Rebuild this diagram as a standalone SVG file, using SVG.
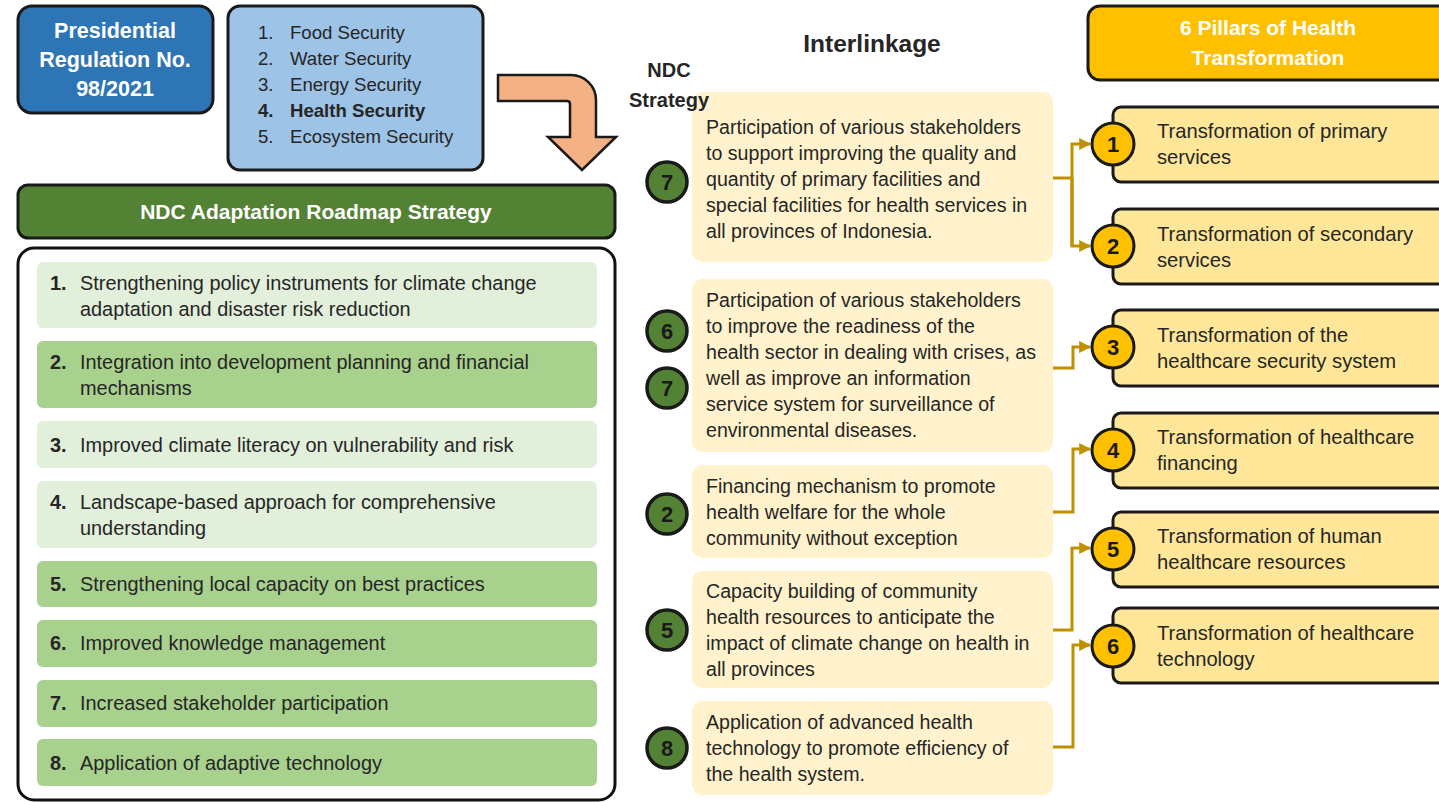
<svg xmlns="http://www.w3.org/2000/svg" width="1439" height="802" viewBox="0 0 1439 802">
<defs>
<style>
text{font-family:"Liberation Sans",Arial,sans-serif;fill:#262626}
.b{font-weight:bold}
.w{fill:#fff}
.t19{font-size:19.6px}
.pt{font-size:20.2px}
.sec{font-size:18.6px}
.it{font-size:19.9px}
.box{stroke:#1a1a1a;stroke-width:3}
.lt{fill:#e2efda}
.dk{fill:#a9d18e}
.il{fill:#fff2cc}
.pil{fill:#ffe699;stroke:#1a1a1a;stroke-width:3}
.pc{fill:#ffc000;stroke:#1a1a1a;stroke-width:3}
.gc{fill:#548235;stroke:#1a1a1a;stroke-width:3.5}
.num{font-size:22px;font-weight:bold;text-anchor:middle;fill:#1a1a1a}
.con{fill:none;stroke:#bf9000;stroke-width:3}
</style>
<marker id="ah" viewBox="0 0 10 10" refX="9" refY="5" markerWidth="4" markerHeight="4" orient="auto" markerUnits="strokeWidth">
<path d="M0,0 L10,5 L0,10 Z" fill="#bf9000"/>
</marker>
</defs>
<rect width="1439" height="802" fill="#fff"/>

<g id="presidential">
<rect x="18" y="6" width="195" height="107" rx="14" fill="#2e75b6" class="box"/>
<text class="b w" font-size="21.5" text-anchor="middle"><tspan x="115" y="38">Presidential</tspan><tspan x="115" y="67">Regulation No.</tspan><tspan x="115" y="96">98/2021</tspan></text>
</g>

<g id="security-list">
<rect x="228" y="6" width="255" height="164" rx="12" fill="#9dc3e6" class="box"/>
<text class="sec"><tspan x="258" y="39">1.</tspan><tspan x="290" y="39">Food Security</tspan></text>
<text class="sec"><tspan x="258" y="65">2.</tspan><tspan x="290" y="65">Water Security</tspan></text>
<text class="sec"><tspan x="258" y="91">3.</tspan><tspan x="290" y="91">Energy Security</tspan></text>
<text class="sec b"><tspan x="258" y="117">4.</tspan><tspan x="290" y="117">Health Security</tspan></text>
<text class="sec"><tspan x="258" y="143">5.</tspan><tspan x="290" y="143">Ecosystem Security</tspan></text>
</g>

<g id="bent-arrow">
<path d="M498,75 H571 A25,25 0 0 1 596,100 V137 H616 L582,170 L548,137 H570 V104 Q570,101 567,101 H498 Z" fill="#f4b183" stroke="#1a1a1a" stroke-width="2.5" stroke-linejoin="miter"/>
</g>

<g id="interlinkage-title">
<text class="b" font-size="24.5" text-anchor="middle" x="872" y="52">Interlinkage</text>
</g>

<g id="pillars-header">
<rect x="1088" y="6" width="370" height="74" rx="12" fill="#ffc000" class="box"/>
<text class="b w" font-size="21" text-anchor="middle"><tspan x="1268" y="35">6 Pillars of Health</tspan><tspan x="1268" y="65">Transformation</tspan></text>
</g>

<g id="ndc-header">
<rect x="18" y="185" width="597" height="53" rx="10" fill="#548235" class="box"/>
<text class="b w" font-size="21" text-anchor="middle" x="316" y="219">NDC Adaptation Roadmap Strategy</text>
</g>

<g id="ndc-list">
<rect x="18" y="248" width="597" height="552" rx="16" fill="#fff" stroke="#111" stroke-width="3"/>
<g id="item1"><rect x="37" y="262" width="560" height="66" rx="6" class="lt"/>
<text class="it"><tspan x="50" y="290" class="b">1.</tspan><tspan x="80" y="290">Strengthening policy instruments for climate change</tspan><tspan x="80" y="316">adaptation and disaster risk reduction</tspan></text></g>
<g id="item2"><rect x="37" y="341" width="560" height="67" rx="6" class="dk"/>
<text class="it"><tspan x="50" y="369" class="b">2.</tspan><tspan x="80" y="369">Integration into development planning and financial</tspan><tspan x="80" y="395">mechanisms</tspan></text></g>
<g id="item3"><rect x="37" y="421" width="560" height="47" rx="6" class="lt"/>
<text class="it"><tspan x="50" y="452" class="b">3.</tspan><tspan x="80" y="452">Improved climate literacy on vulnerability and risk</tspan></text></g>
<g id="item4"><rect x="37" y="481" width="560" height="67" rx="6" class="lt"/>
<text class="it"><tspan x="50" y="509" class="b">4.</tspan><tspan x="80" y="509">Landscape-based approach for comprehensive</tspan><tspan x="80" y="535">understanding</tspan></text></g>
<g id="item5"><rect x="37" y="561" width="560" height="46" rx="6" class="dk"/>
<text class="it"><tspan x="50" y="591" class="b">5.</tspan><tspan x="80" y="591">Strengthening local capacity on best practices</tspan></text></g>
<g id="item6"><rect x="37" y="620" width="560" height="47" rx="6" class="dk"/>
<text class="it"><tspan x="50" y="650" class="b">6.</tspan><tspan x="80" y="650">Improved knowledge management</tspan></text></g>
<g id="item7"><rect x="37" y="680" width="560" height="47" rx="6" class="dk"/>
<text class="it"><tspan x="50" y="710" class="b">7.</tspan><tspan x="80" y="710">Increased stakeholder participation</tspan></text></g>
<g id="item8"><rect x="37" y="739" width="560" height="47" rx="6" class="dk"/>
<text class="it"><tspan x="50" y="770" class="b">8.</tspan><tspan x="80" y="770">Application of adaptive technology</tspan></text></g>
</g>

<g id="interlink-a">
<rect x="692" y="92" width="361" height="170" rx="10" class="il"/>
<text class="t19"><tspan x="706" y="134">Participation of various stakeholders</tspan><tspan x="706" y="160">to support improving the quality and</tspan><tspan x="706" y="186">quantity of primary facilities and</tspan><tspan x="706" y="212">special facilities for health services in</tspan><tspan x="706" y="238">all provinces of Indonesia.</tspan></text>
<circle cx="667" cy="182" r="20" class="gc"/><text class="num" x="667" y="190">7</text>
</g>

<g id="ndc-strategy-label">
<text class="b" font-size="20" text-anchor="middle" fill="#000"><tspan x="669" y="77">NDC</tspan><tspan x="669" y="107">Strategy</tspan></text>
</g>

<g id="interlink-b">
<rect x="692" y="279" width="361" height="173" rx="10" class="il"/>
<text class="t19"><tspan x="706" y="307">Participation of various stakeholders</tspan><tspan x="706" y="333">to improve the readiness of the</tspan><tspan x="706" y="359">health sector in dealing with crises, as</tspan><tspan x="706" y="385">well as improve an information</tspan><tspan x="706" y="411">service system for surveillance of</tspan><tspan x="706" y="437">environmental diseases.</tspan></text>
<circle cx="667" cy="331" r="20" class="gc"/><text class="num" x="667" y="339">6</text>
<circle cx="667" cy="388" r="20" class="gc"/><text class="num" x="667" y="396">7</text>
</g>

<g id="interlink-c">
<rect x="692" y="465" width="361" height="93" rx="10" class="il"/>
<text class="t19"><tspan x="706" y="493">Financing mechanism to promote</tspan><tspan x="706" y="519">health welfare for the whole</tspan><tspan x="706" y="545">community without exception</tspan></text>
<circle cx="667" cy="514" r="20" class="gc"/><text class="num" x="667" y="522">2</text>
</g>

<g id="interlink-d">
<rect x="692" y="571" width="361" height="117" rx="10" class="il"/>
<text class="t19"><tspan x="706" y="598">Capacity building of community</tspan><tspan x="706" y="624">health resources to anticipate the</tspan><tspan x="706" y="650">impact of climate change on health in</tspan><tspan x="706" y="676">all provinces</tspan></text>
<circle cx="667" cy="630" r="20" class="gc"/><text class="num" x="667" y="638">5</text>
</g>

<g id="interlink-e">
<rect x="692" y="701" width="361" height="94" rx="10" class="il"/>
<text class="t19"><tspan x="706" y="729">Application of advanced health</tspan><tspan x="706" y="755">technology to promote efficiency of</tspan><tspan x="706" y="781">the health system.</tspan></text>
<circle cx="667" cy="748" r="20" class="gc"/><text class="num" x="667" y="756">8</text>
</g>

<g id="connectors">
<path class="con" d="M1053,178 H1072"/>
<path class="con" d="M1072,246 V144 H1090" marker-end="url(#ah)"/>
<path class="con" d="M1072,178 V246 H1090" marker-end="url(#ah)"/>
<path class="con" d="M1053,368 H1073 V347 H1090" marker-end="url(#ah)"/>
<path class="con" d="M1053,512 H1073 V449 H1090" marker-end="url(#ah)"/>
<path class="con" d="M1053,630 H1072 V548 H1090" marker-end="url(#ah)"/>
<path class="con" d="M1053,747 H1073 V645 H1090" marker-end="url(#ah)"/>
</g>

<g id="pillar1">
<rect x="1113" y="107" width="340" height="75" rx="8" class="pil"/>
<circle cx="1113" cy="144" r="21" class="pc"/><text class="num" x="1113" y="152">1</text>
<text class="pt"><tspan x="1157" y="138">Transformation of primary</tspan><tspan x="1157" y="164">services</tspan></text>
</g>
<g id="pillar2">
<rect x="1113" y="209" width="340" height="75" rx="8" class="pil"/>
<circle cx="1113" cy="246" r="21" class="pc"/><text class="num" x="1113" y="254">2</text>
<text class="pt"><tspan x="1157" y="241">Transformation of secondary</tspan><tspan x="1157" y="267">services</tspan></text>
</g>
<g id="pillar3">
<rect x="1113" y="310" width="340" height="76" rx="8" class="pil"/>
<circle cx="1113" cy="347" r="21" class="pc"/><text class="num" x="1113" y="355">3</text>
<text class="pt"><tspan x="1157" y="342">Transformation of the</tspan><tspan x="1157" y="368">healthcare security system</tspan></text>
</g>
<g id="pillar4">
<rect x="1113" y="413" width="340" height="75" rx="8" class="pil"/>
<circle cx="1113" cy="450" r="21" class="pc"/><text class="num" x="1113" y="458">4</text>
<text class="pt"><tspan x="1157" y="444">Transformation of healthcare</tspan><tspan x="1157" y="470">financing</tspan></text>
</g>
<g id="pillar5">
<rect x="1113" y="512" width="340" height="75" rx="8" class="pil"/>
<circle cx="1113" cy="549" r="21" class="pc"/><text class="num" x="1113" y="557">5</text>
<text class="pt"><tspan x="1157" y="543">Transformation of human</tspan><tspan x="1157" y="569">healthcare resources</tspan></text>
</g>
<g id="pillar6">
<rect x="1113" y="608" width="340" height="75" rx="8" class="pil"/>
<circle cx="1113" cy="646" r="21" class="pc"/><text class="num" x="1113" y="654">6</text>
<text class="pt"><tspan x="1157" y="640">Transformation of healthcare</tspan><tspan x="1157" y="666">technology</tspan></text>
</g>
</svg>
